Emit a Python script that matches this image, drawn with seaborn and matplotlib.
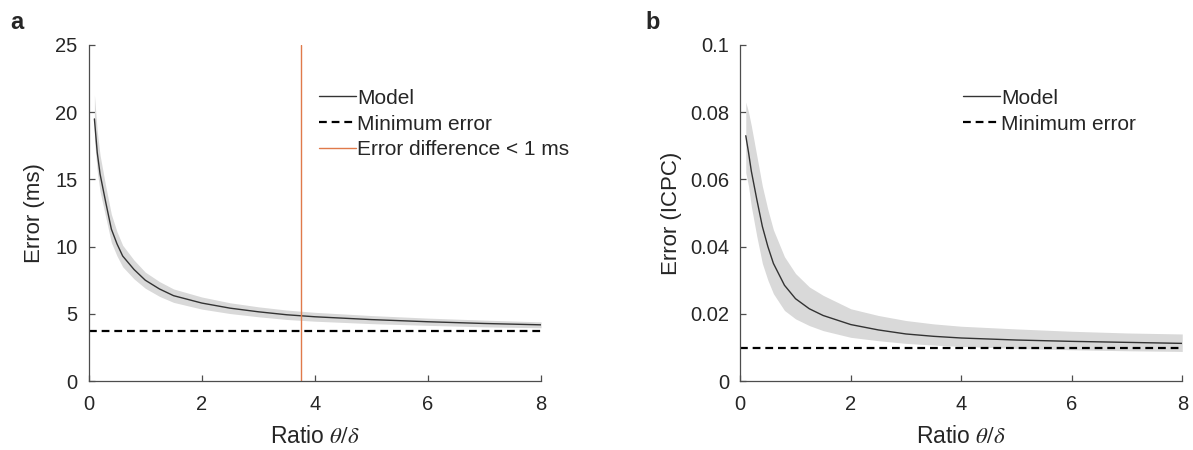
import numpy as np
import pandas as pd
import matplotlib
matplotlib.use("Agg")
import matplotlib.pyplot as plt
import seaborn as sns

# -------------------------------
# Data
# -------------------------------
ratio = [0.1, 0.15, 0.2, 0.3, 0.4, 0.5, 0.6, 0.8, 1.0, 1.25, 1.5,
         2.0, 2.5, 3.0, 3.5, 4.0, 5.0, 6.0, 7.0, 8.0]

# panel a : error in ms
err_ms = [19.5, 17.0, 15.4, 13.3, 11.3, 10.2, 9.3, 8.3, 7.5, 6.85, 6.35,
          5.8, 5.42, 5.15, 4.93, 4.78, 4.57, 4.41, 4.28, 4.18]
err_ms_hi = [21.3, 18.6, 16.8, 14.5, 12.4, 11.1, 10.1, 9.0, 8.1, 7.4, 6.85,
             6.25, 5.82, 5.52, 5.28, 5.11, 4.87, 4.68, 4.53, 4.40]
err_ms_lo = [18.0, 15.6, 14.1, 12.2, 10.3, 9.3, 8.5, 7.6, 6.9, 6.3, 5.85,
             5.35, 5.02, 4.78, 4.58, 4.45, 4.27, 4.14, 4.03, 3.96]
min_err_ms = 3.75
ratio_cut = 3.76

# panel b : error in ICPC
err_icpc = [0.0730, 0.0680, 0.0625, 0.0540, 0.0460, 0.0400, 0.0350, 0.0285,
            0.0245, 0.0215, 0.0195, 0.0168, 0.0152, 0.0140, 0.0133, 0.0128,
            0.0122, 0.0118, 0.0115, 0.0112]
err_icpc_hi = [0.083, 0.080, 0.076, 0.067, 0.058, 0.051, 0.045, 0.037,
               0.032, 0.028, 0.0255, 0.0215, 0.0195, 0.0180, 0.0170, 0.0163,
               0.0155, 0.0148, 0.0143, 0.0140]
err_icpc_lo = [0.062, 0.058, 0.052, 0.043, 0.035, 0.030, 0.026, 0.021,
               0.0185, 0.0165, 0.0150, 0.0130, 0.0120, 0.0112, 0.0107, 0.0103,
               0.0097, 0.0093, 0.0090, 0.0088]
min_err_icpc = 0.0097

df = pd.DataFrame({"ratio": ratio, "ms": err_ms, "icpc": err_icpc})

# -------------------------------
# Style
# -------------------------------
sns.set_style("ticks")
plt.rcParams["font.family"] = ["Liberation Sans", "DejaVu Sans"]
plt.rcParams["mathtext.fontset"] = "stix"
plt.rcParams["text.color"] = "#262626"
plt.rcParams["axes.labelcolor"] = "#262626"
plt.rcParams["xtick.color"] = "#4d4d4d"
plt.rcParams["ytick.color"] = "#4d4d4d"
plt.rcParams["xtick.labelcolor"] = "#262626"
plt.rcParams["ytick.labelcolor"] = "#262626"

line_col = "#333333"
band_col = "#d9d9d9"
orange = "#e07a4a"
dash = (3.5, 2.2)

fig = plt.figure(figsize=(11.93, 4.5), dpi=100)
ax1 = fig.add_axes([0.0744, 0.1533, 0.3791, 0.7467])
ax2 = fig.add_axes([0.6205, 0.1533, 0.3705, 0.7467])


def style_axes(ax, yticks, ylabels, ylabel, ylab_x):
    ax.set_xlim(0, 8)
    ax.set_xticks([0, 2, 4, 6, 8])
    ax.set_yticks(yticks)
    ax.set_yticklabels(ylabels)
    ax.set_ylim(yticks[0], yticks[-1])
    sns.despine(ax=ax)
    for s in ["left", "bottom"]:
        ax.spines[s].set_color("#4d4d4d")
        ax.spines[s].set_linewidth(0.9)
    ax.tick_params(direction="in", length=4, width=0.9, labelsize=14.5)
    ax.tick_params(axis="x", pad=10)
    ax.tick_params(axis="y", pad=8)
    ax.set_xlabel(r"Ratio $\theta/\delta$", fontsize=16.5, va="center")
    ax.xaxis.set_label_coords(0.5, -0.166)
    ax.set_ylabel(ylabel, fontsize=16, va="center")
    ax.yaxis.set_label_coords(ylab_x, 0.5)


leg_kw = dict(loc="upper left", frameon=False, fontsize=15, handlelength=1.8,
              handletextpad=0.05, labelspacing=0.33, borderpad=0,
              borderaxespad=0)

# -------------------------------
# Panel a
# -------------------------------
ax1.fill_between(ratio, err_ms_lo, err_ms_hi, color=band_col, lw=0)
sns.lineplot(data=df, x="ratio", y="ms", ax=ax1, color=line_col, lw=1.0,
             label="Model")
ax1.axhline(min_err_ms, color="black", lw=1.6, dashes=dash,
            label="Minimum error")
ax1.axvline(ratio_cut, color=orange, lw=1.0,
            label="Error difference < 1 ms")
style_axes(ax1, [0, 5, 10, 15, 20, 25], ["0", "5", "10", "15", "20", "25"],
           "Error (ms)", -0.119)
ax1.legend(bbox_to_anchor=(0.508, 0.87), **leg_kw)

# -------------------------------
# Panel b
# -------------------------------
ax2.fill_between(ratio, err_icpc_lo, err_icpc_hi, color=band_col, lw=0)
sns.lineplot(data=df, x="ratio", y="icpc", ax=ax2, color=line_col, lw=1.0,
             label="Model")
ax2.axhline(min_err_icpc, color="black", lw=1.6, dashes=dash,
            label="Minimum error")
style_axes(ax2, [0, 0.02, 0.04, 0.06, 0.08, 0.1],
           ["0", "0.02", "0.04", "0.06", "0.08", "0.1"],
           "Error (ICPC)", -0.155)
ax2.legend(bbox_to_anchor=(0.503, 0.87), **leg_kw)

fig.text(0.0084, 0.935, "a", fontsize=17, fontweight="bold", va="baseline")
fig.text(0.541, 0.935, "b", fontsize=17, fontweight="bold", va="baseline")

fig.savefig("out.png", dpi=100)
